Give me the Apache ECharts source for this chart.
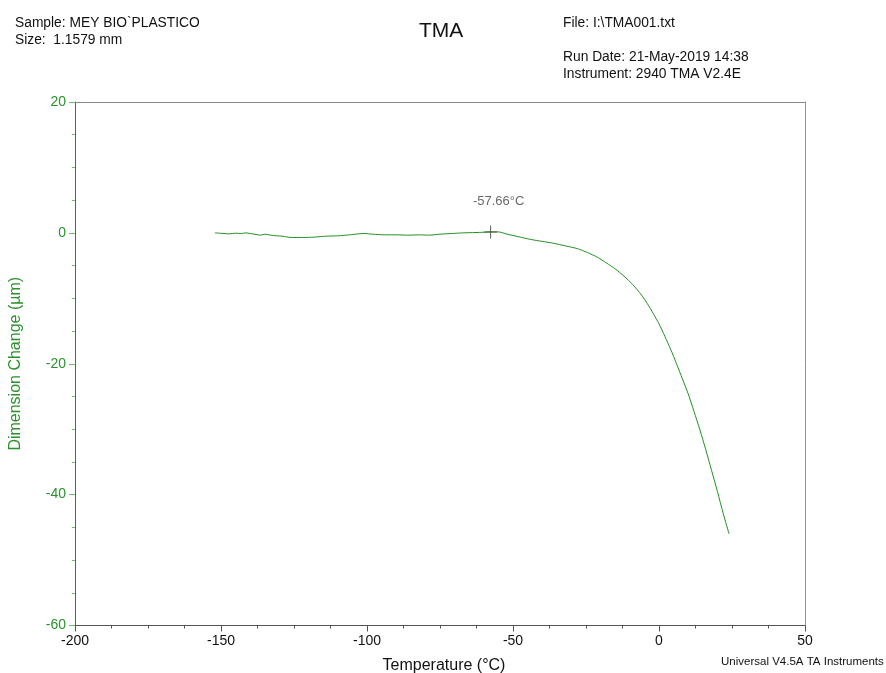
<!DOCTYPE html>
<html><head><meta charset="utf-8">
<script src="https://cdn.jsdelivr.net/npm/echarts@6/dist/echarts.min.js"></script>
<style>html,body{margin:0;padding:0;background:#fff}#c{width:886px;height:673px}</style>
</head><body><div id="c"></div>
<script>
// Temperature (°C)
const temperature = [-152.1,-150.5,-149,-147,-145,-143,-141.5,-140,-138,-136.5,-135,-133,-131,-129,-126,-122,-118,-114,-110,-106,-103,-101,-98,-94,-90,-86,-82,-79,-75,-71,-67,-63,-60,-57.66,-55,-52,-48,-44,-40,-36,-32,-28,-24.5,-21,-18,-15,-12,-9,-6,-4,-2,0,2,4,6,8,10,12,14,16,18,20,22,24];
// Dimension Change (µm)
const dimension = [0.0,-0.05,-0.1,-0.15,-0.05,-0.1,0.0,-0.1,-0.25,-0.35,-0.2,-0.35,-0.45,-0.5,-0.7,-0.7,-0.65,-0.5,-0.45,-0.3,-0.15,-0.1,-0.2,-0.3,-0.3,-0.35,-0.3,-0.35,-0.2,-0.1,0.0,0.05,0.1,0.15,0.15,-0.2,-0.6,-1.0,-1.3,-1.6,-2.0,-2.4,-3.0,-3.75,-4.6,-5.5,-6.6,-7.9,-9.5,-10.8,-12.3,-13.9,-15.8,-17.8,-20.0,-22.3,-24.6,-27.3,-30.1,-33.1,-36.3,-39.5,-42.9,-46.0];
const markerT = -57.66;
const markerV = 0.15;
const markerLabel = '-57.66°C';
const xTicks = {min:-200, max:50, interval:50};
const yTicks = {min:-60, max:20, interval:20};

const FONT = '"Liberation Sans", Arial, sans-serif';
const GREEN = '#2a922a';
const chart = echarts.init(document.getElementById('c'));
const lineData = temperature.map((t,i)=>[t, dimension[i]]);
chart.setOption({
  animation:false,
  textStyle:{fontFamily:FONT},
  grid:{left:75, right:81, top:102, bottom:47.5, outerBoundsMode:'none', containLabel:false},
  graphic:[
    {type:'text', left:15, top:16, style:{text:'Sample: MEY BIO`PLASTICO', font:'13.8px '+FONT, fill:'#111'}},
    {type:'text', left:15, top:33, style:{text:'Size:  1.1579 mm', font:'13.8px '+FONT, fill:'#111'}},
    {type:'text', left:563, top:16, style:{text:'File: I:\\TMA001.txt', font:'13.8px '+FONT, fill:'#111'}},
    {type:'text', left:563, top:50, style:{text:'Run Date: 21-May-2019 14:38', font:'13.8px '+FONT, fill:'#111'}},
    {type:'text', left:563, top:67, style:{text:'Instrument: 2940 TMA V2.4E', font:'13.8px '+FONT, fill:'#111'}},
    {type:'text', left:419, top:21, style:{text:'TMA', font:'21px '+FONT, fill:'#111'}},
    {type:'text', left:721, top:656, style:{text:'Universal V4.5A TA Instruments', font:'11.5px '+FONT, fill:'#111'}}
  ],
  xAxis:[{
    type:'value', min:xTicks.min, max:xTicks.max, interval:xTicks.interval, position:'bottom',
    name:'Temperature (°C)', nameLocation:'middle', nameGap:32,
    nameTextStyle:{fontSize:16, color:'#111', fontFamily:FONT, padding:[0,0,0,8]},
    axisLine:{show:true, onZero:false, lineStyle:{color:'#555', width:1}},
    axisTick:{show:true, inside:false, length:6, lineStyle:{color:'#555'}},
    minorTick:{show:true, splitNumber:4, length:3, lineStyle:{color:'#555'}},
    axisLabel:{fontSize:14, color:'#111', margin:9, fontFamily:FONT},
    splitLine:{show:false}
  },{
    type:'value', min:xTicks.min, max:xTicks.max, position:'top',
    axisLine:{show:true, onZero:false, lineStyle:{color:'#888', width:1}},
    axisTick:{show:false}, axisLabel:{show:false}, splitLine:{show:false}
  }],
  yAxis:[{
    type:'value', min:yTicks.min, max:yTicks.max, interval:yTicks.interval, position:'left',
    name:'Dimension Change (µm)', nameLocation:'middle', nameGap:51,
    nameTextStyle:{fontSize:16, color:GREEN, fontFamily:FONT},
    axisLine:{show:true, onZero:false, lineStyle:{color:'#1f8a1f', width:1}},
    axisTick:{show:true, inside:false, length:6, lineStyle:{color:'#6cbf6c'}},
    minorTick:{show:true, splitNumber:4, length:3, lineStyle:{color:'#6cbf6c'}},
    axisLabel:{fontSize:14, color:GREEN, margin:9, fontFamily:FONT},
    splitLine:{show:false}
  },{
    type:'value', min:yTicks.min, max:yTicks.max, position:'right',
    axisLine:{show:true, onZero:false, lineStyle:{color:'#5cb85c', width:1}},
    axisTick:{show:false}, axisLabel:{show:false}, splitLine:{show:false}
  }],
  series:[{
    type:'line', data:lineData, showSymbol:false, symbol:'none',
    lineStyle:{color:'#1f8f1f', width:1}, smooth:0.25, z:3
  },{
    type:'scatter', data:[[markerT, markerV]], z:4,
    symbol:'path://M6,0h1v13h-1z M0,6h13v1h-13z', symbolSize:[13,13],
    itemStyle:{color:'#333'},
    label:{show:true, position:'top', distance:17, offset:[8,0], formatter:markerLabel, fontSize:13, color:'#444', fontFamily:FONT}
  }]
});
</script></body></html>
